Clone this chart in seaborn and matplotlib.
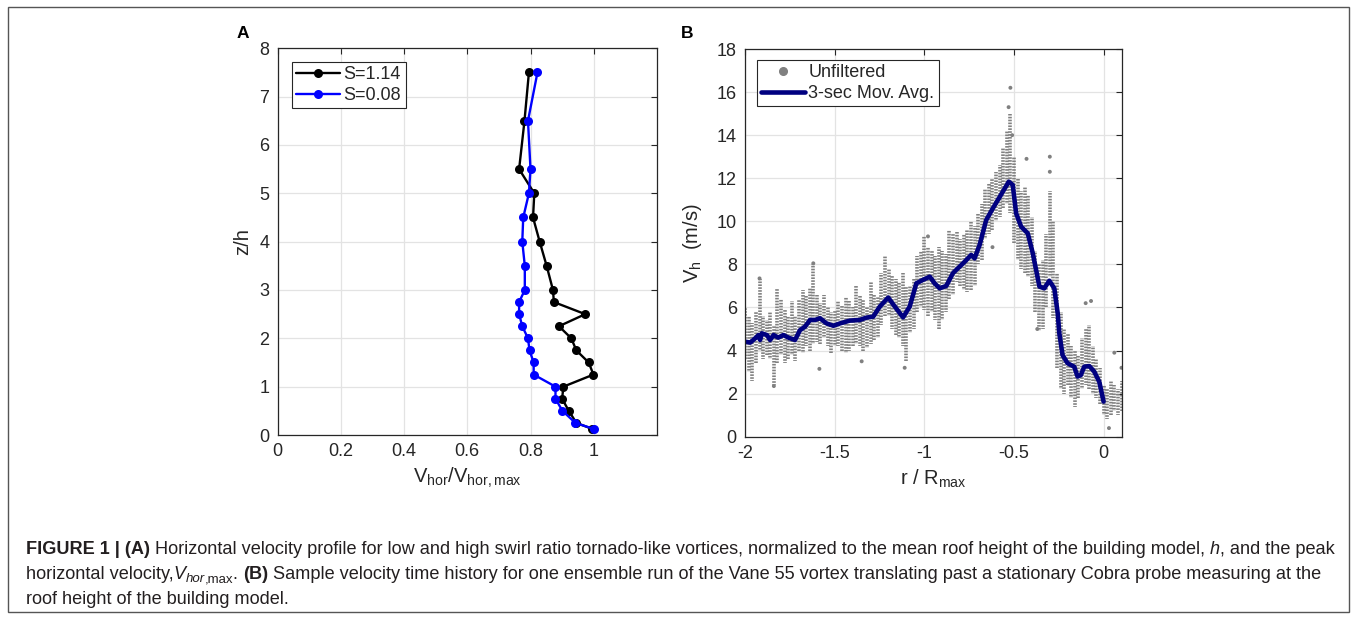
import numpy as np
import pandas as pd
import matplotlib
matplotlib.use('Agg')
import matplotlib.pyplot as plt
import seaborn as sns
from matplotlib.lines import Line2D
from matplotlib.patches import Rectangle

# ---------------- Panel A data ----------------
z_h = [7.5, 6.5, 5.5, 5.0, 4.5, 4.0, 3.5, 3.0, 2.75, 2.5, 2.25, 2.0, 1.75, 1.5, 1.25, 1.0, 0.75, 0.5, 0.25, 0.125]
v_s114 = [0.795, 0.781, 0.764, 0.812, 0.808, 0.829, 0.851, 0.871, 0.874, 0.973, 0.890, 0.929, 0.945, 0.984, 0.999,
          0.904, 0.900, 0.921, 0.945, 0.996]
v_s008 = [0.822, 0.792, 0.800, 0.795, 0.777, 0.774, 0.782, 0.782, 0.764, 0.764, 0.774, 0.792, 0.797, 0.810, 0.810,
          0.879, 0.879, 0.901, 0.942, 1.000]
series_labels = ['S=1.14', 'S=0.08']

# ---------------- Panel B data ----------------
mavg_r = [-2.000, -1.972, -1.944, -1.926, -1.917, -1.907, -1.879, -1.861, -1.842, -1.815, -1.787, -1.759, -1.722,
          -1.694, -1.666, -1.638, -1.610, -1.583, -1.546, -1.508, -1.471, -1.416, -1.360, -1.323, -1.286, -1.249,
          -1.202, -1.165, -1.119, -1.082, -1.045, -1.008, -0.970, -0.943, -0.915, -0.878, -0.841, -0.804, -0.766,
          -0.739, -0.720, -0.692, -0.655, -0.618, -0.590, -0.562, -0.529, -0.507, -0.488, -0.460, -0.423, -0.395,
          -0.358, -0.331, -0.303, -0.275, -0.256, -0.247, -0.229, -0.201, -0.164, -0.145, -0.127, -0.108, -0.080,
          -0.052, -0.024, 0.000]
mavg_v = [4.41, 4.37, 4.57, 4.72, 4.49, 4.80, 4.72, 4.49, 4.72, 4.60, 4.72, 4.60, 4.49,
          4.95, 5.11, 5.42, 5.42, 5.50, 5.26, 5.15, 5.26, 5.39, 5.42, 5.53, 5.57, 6.04,
          6.46, 6.04, 5.54, 6.04, 7.12, 7.28, 7.43, 7.12, 6.89, 7.00, 7.59, 7.89, 8.20,
          8.44, 8.28, 8.90, 10.06, 10.60, 10.99, 11.38, 11.84, 11.69, 10.37, 9.75, 9.44, 8.51,
          6.97, 6.89, 7.24, 6.89, 5.73, 4.80, 3.79, 3.41, 3.25, 2.79, 2.86, 3.25, 3.28,
          3.02, 2.55, 1.63]

# unfiltered samples: vertical extent of the sample cloud in bins of 0.02 r/Rmax, from -2.00 to 0.10
cloud_r = np.round(np.arange(106) * 0.02 - 2.0, 2)
cloud_lo = [3.6, 3.0, 2.6, 3.4, 4.0, 3.6, 3.8, 3.6, 2.4, 3.4, 3.8, 3.4, 3.6, 3.8, 3.5, 4.0, 3.9, 4.2, 4.0, 4.3,
            4.4, 4.3, 4.6, 4.2, 3.9, 4.2, 4.2, 4.0, 3.9, 4.0, 4.2, 4.3, 4.2, 4.0, 4.1, 4.3, 4.5, 4.6, 5.2, 5.6,
            5.6, 5.0, 4.7, 4.6, 4.2, 3.5, 4.8, 5.0, 5.8, 6.0, 5.9, 5.6, 5.8, 5.4, 5.0, 5.4, 5.8, 6.4, 6.6, 7.2,
            7.0, 6.8, 6.7, 6.8, 7.0, 8.0, 8.2, 9.2, 9.4, 9.6, 10.0, 10.2, 10.6, 10.8, 10.4, 9.0, 8.2, 7.8, 7.6, 7.4,
            7.0, 5.8, 4.9, 5.0, 6.0, 7.4, 5.5, 3.2, 2.2, 2.0, 2.4, 1.8, 1.4, 1.8, 2.2, 2.4, 2.2, 2.0, 1.8, 1.5,
            1.0, 0.8, 1.0, 1.2, 1.0, 1.2]
cloud_hi = [6.0, 5.6, 5.3, 5.8, 7.3, 5.6, 5.4, 5.8, 5.2, 6.9, 6.4, 5.9, 5.6, 6.3, 5.6, 6.4, 6.8, 6.6, 6.9, 8.0,
            6.6, 6.2, 6.6, 6.0, 5.8, 5.9, 6.3, 6.1, 6.5, 6.3, 6.0, 7.0, 6.6, 6.4, 6.0, 7.2, 6.6, 6.5, 7.6, 8.4,
            7.8, 7.5, 7.3, 7.2, 7.6, 7.0, 7.0, 7.3, 8.4, 8.6, 9.3, 8.8, 8.6, 8.4, 8.8, 8.6, 8.5, 9.6, 9.4, 9.5,
            9.2, 9.4, 9.6, 10.0, 9.8, 10.4, 10.8, 11.5, 11.8, 12.0, 12.3, 12.6, 13.4, 14.2, 15.0, 13.0, 12.0, 11.4, 11.6, 11.2,
            10.2, 8.6, 8.0, 8.2, 9.4, 11.4, 10.0, 7.6, 5.8, 5.0, 4.8, 4.2, 4.0, 3.8, 4.6, 5.0, 5.2, 4.2, 3.6, 3.2,
            2.4, 2.2, 2.6, 2.4, 2.2, 2.6]
# isolated samples outside the dense cloud
out_r = [-1.92, -1.84, -1.62, -1.586, -1.35, -1.11, -0.98, -0.62, -0.53, -0.52, -0.51, -0.43, -0.37, -0.30,
         -0.30, -0.10, -0.07, 0.03, 0.06, 0.10]
out_v = [7.35, 2.35, 8.05, 3.15, 3.5, 3.2, 9.3, 8.8, 15.3, 16.2, 14.0, 12.9, 5.0, 13.0,
         12.3, 6.2, 6.3, 0.4, 3.9, 3.2]

# ---------------- style ----------------
sns.set_style('white')
plt.rcParams['font.family'] = ['Liberation Sans', 'DejaVu Sans']
plt.rcParams['mathtext.fontset'] = 'custom'
plt.rcParams['mathtext.rm'] = 'Liberation Sans'
plt.rcParams['mathtext.it'] = 'Liberation Sans:italic'
plt.rcParams['mathtext.bf'] = 'Liberation Sans:bold'

W, H = 1357, 619
fig = plt.figure(figsize=(W / 100, H / 100), dpi=100)
fig.patch.set_facecolor('white')


def rect(l, t, r, b):
    return [l / W, 1 - b / H, (r - l) / W, (b - t) / H]


axA = fig.add_axes(rect(277.5, 48.3, 657, 435))
axB = fig.add_axes(rect(745.2, 49, 1121.5, 436.7))

TC = '#262626'


def style(ax):
    ax.grid(True, color='#e3e3e3', lw=0.9)
    ax.set_axisbelow(True)
    for s in ax.spines.values():
        s.set_visible(True)
        s.set_color(TC)
        s.set_linewidth(0.9)
    ax.tick_params(direction='in', top=True, right=True, length=4, width=0.8, color=TC,
                   labelcolor=TC, labelsize=13, pad=6)


# ---------------- Panel A ----------------
dfA = pd.DataFrame({'z': z_h * 2, 'v': v_s114 + v_s008,
                    'S': [series_labels[0]] * len(z_h) + [series_labels[1]] * len(z_h)})
sns.lineplot(data=dfA, x='v', y='z', hue='S', palette={series_labels[0]: 'black', series_labels[1]: '#0000ff'},
             sort=False, estimator=None, marker='o', markersize=6.5, markeredgewidth=0, lw=1.7, ax=axA)
axA.set_xlim(0, 1.2)
axA.set_ylim(0, 8)
axA.set_xticks([0, 0.2, 0.4, 0.6, 0.8, 1.0])
axA.set_xticklabels(['0', '0.2', '0.4', '0.6', '0.8', '1'])
axA.set_yticks(range(0, 9))
style(axA)
axA.set_xlabel(r'V$_{\mathrm{hor}}$/V$_{\mathrm{hor,max}}$', fontsize=14.5, color=TC, labelpad=4)
axA.set_ylabel('z/h', fontsize=14.5, color=TC, labelpad=5)
legA = axA.legend(loc='upper left', bbox_to_anchor=(0.038, 0.965), borderaxespad=0, fontsize=13,
                  frameon=True, fancybox=False, framealpha=1, edgecolor=TC, handlelength=2.4,
                  handletextpad=0.2, borderpad=0.25, labelspacing=0.2, title=None)
legA.get_frame().set_linewidth(0.8)

# ---------------- Panel B ----------------
dash_styles = [(0.0, (0.45, 0.35)), (0.4, (0.45, 0.35)), (0.2, (0.45, 0.35))]
axB.vlines(cloud_r, cloud_lo, cloud_hi, colors='#808080', lw=2.6,
           linestyles=[dash_styles[i % 3] for i in range(len(cloud_r))])
sns.scatterplot(x=out_r, y=out_v, color='#808080', s=8, edgecolor='none', ax=axB, legend=False)
sns.lineplot(x=mavg_r, y=mavg_v, color='#000080', lw=3.3, sort=False, estimator=None, ax=axB)
axB.set_xlim(-2, 0.1)
axB.set_ylim(0, 18)
axB.set_xticks([-2, -1.5, -1, -0.5, 0])
axB.set_xticklabels(['-2', '-1.5', '-1', '-0.5', '0'])
axB.set_yticks(range(0, 19, 2))
style(axB)
axB.set_xlabel(r'r / R$_{\mathrm{max}}$', fontsize=14.5, color=TC, labelpad=4)
axB.set_ylabel(r'V$_{\mathrm{h}}$  (m/s)', fontsize=14.5, color=TC, labelpad=9)
hB = [Line2D([], [], ls='', marker='o', color='#808080', markersize=5.5),
      Line2D([], [], color='#000080', lw=3.3)]
legB = axB.legend(hB, ['Unfiltered', '3-sec Mov. Avg.'], loc='upper left', bbox_to_anchor=(0.031, 0.972),
                  borderaxespad=0, fontsize=13, frameon=True, fancybox=False, framealpha=1, edgecolor=TC,
                  handlelength=2.4, handletextpad=0.2, borderpad=0.25, labelspacing=0.2)
legB.get_frame().set_linewidth(0.8)

# panel letters
fig.text(243 / W, 1 - 34 / H, 'A', fontsize=12.5, fontweight='bold', ha='center', va='center', color='black')
fig.text(687 / W, 1 - 33 / H, 'B', fontsize=12.5, fontweight='bold', ha='center', va='center', color='black')

# outer frame
fig.patches.append(Rectangle((8 / W, 1 - 612 / H), (1349 - 8) / W, (612 - 7) / H, transform=fig.transFigure,
                             fill=False, edgecolor='#555555', lw=1.0))

# ---------------- caption ----------------
CC = '#231f20'
renderer = fig.canvas.get_renderer()


def rich_line(runs, x, y, size=13.05):
    for txt, kw in runs:
        dy = kw.get('dy', 0)
        t = fig.text(x / W, 1 - (y + dy) / H, txt, fontsize=kw.get('size', size),
                     family=['Liberation Sans', 'DejaVu Sans'],
                     fontweight=kw.get('weight', 'normal'), fontstyle=kw.get('style', 'normal'),
                     va='baseline', ha='left', color=CC)
        bb = t.get_window_extent(renderer)
        x += bb.width
    return x


N = {}
B = {'weight': 'bold'}
I = {'style': 'italic'}
rich_line([('FIGURE 1 | (A)', B),
           (' Horizontal velocity profile for low and high swirl ratio tornado-like vortices, normalized to the mean '
            'roof height of the building model, ', N),
           ('h', I), (', and the peak', N)], 26, 554)
rich_line([('horizontal velocity,', N), ('V', I), ('hor', {'style': 'italic', 'size': 9.5, 'dy': 3}),
           (',max', {'size': 9.5, 'dy': 3}), ('. ', N), ('(B)', B),
           (' Sample velocity time history for one ensemble run of the Vane 55 vortex translating past a stationary '
            'Cobra probe measuring at the', N)], 26, 579)
rich_line([('roof height of the building model.', N)], 26, 604)

fig.savefig('out.png', dpi=100, facecolor='white')
